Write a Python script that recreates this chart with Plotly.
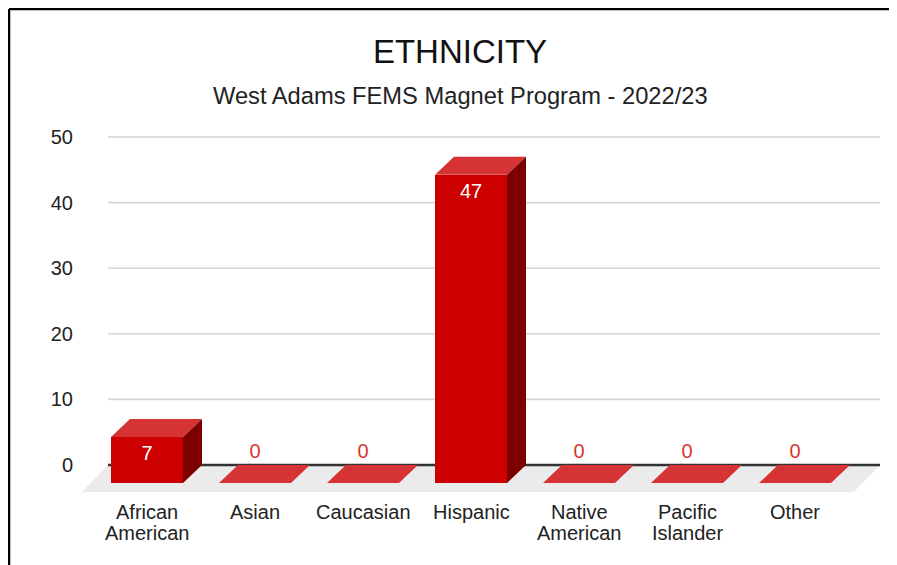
import plotly.graph_objects as go

# ---- data ----
categories = ["African American", "Asian", "Caucasian", "Hispanic",
              "Native American", "Pacific Islander", "Other"]
tick_labels = ["African<br>American", "Asian", "Caucasian", "Hispanic",
               "Native<br>American", "Pacific<br>Islander", "Other"]
values = [7, 0, 0, 47, 0, 0, 0]
y_ticks = [0, 10, 20, 30, 40, 50]
title_text = "ETHNICITY"
subtitle_text = "West Adams FEMS Magnet Program - 2022/23"

# ---- style / geometry (window px -> figure px -> data units) ----
OFF = 8                                      # page body margin
W, H = 897 - OFF, 565 - OFF
PL, PR, PT, PB = 82 - OFF, 880 - OFF, 124 - OFF, 498 - OFF
PX_PER_X = 108.0
PX_PER_Y = 6.56
X0_PX, Y0_PX = 147 - OFF, 465 - OFF
x_range = [(PL - X0_PX) / PX_PER_X, (PR - X0_PX) / PX_PER_X]
y_range = [-(PB - Y0_PX) / PX_PER_Y, (Y0_PX - PT) / PX_PER_Y]

bar_w = 72 / PX_PER_X
dxb, dyb = 19 / PX_PER_X, 18 / PX_PER_Y      # bar depth offset
dxf, dyf = 26 / PX_PER_X, 27 / PX_PER_Y      # floor depth offset
grid_x0 = (108 - OFF - X0_PX) / PX_PER_X
grid_x1 = x_range[1]

FRONT = "#cc0000"
TOP = "#d63434"
SIDE = "#7d0000"
FONT = "Arial, Liberation Sans, sans-serif"
TXT = "#222222"

idx = list(range(len(categories)))

fig = go.Figure()

fig.add_trace(go.Bar(
    x=idx, y=values, base=[-dyb] * len(values), width=bar_w,
    marker=dict(color=FRONT, line=dict(width=0)),
    hoverinfo="skip", showlegend=False,
))

lab_y = [v - dyb - 18 / PX_PER_Y if v > 0 else 12 / PX_PER_Y for v in values]
lab_c = ["white" if v > 0 else "#d93636" for v in values]
fig.add_trace(go.Scatter(
    x=idx, y=lab_y, mode="text", text=[str(v) for v in values],
    textposition="middle center",
    textfont=dict(color=lab_c, size=20, family=FONT),
    hoverinfo="skip", showlegend=False,
))

shapes = []
shapes.append(dict(
    type="path", xref="x", yref="y", layer="below", line=dict(width=0),
    fillcolor="#ebebeb",
    path=f"M {grid_x0},0 L {grid_x1},0 L {grid_x1 - dxf},{-dyf} L {grid_x0 - dxf},{-dyf} Z",
))
for t in y_ticks:
    shapes.append(dict(
        type="line", xref="x", yref="y", layer="below",
        x0=grid_x0, x1=grid_x1, y0=t, y1=t,
        line=dict(color="#333333" if t == 0 else "#d6d6d6",
                  width=2.5 if t == 0 else 1.6),
    ))
for i, v in zip(idx, values):
    fl, fr = i - bar_w / 2, i + bar_w / 2
    ft, fb = v - dyb, -dyb
    shapes.append(dict(
        type="path", xref="x", yref="y", layer="above", line=dict(width=0),
        fillcolor=TOP,
        path=f"M {fl},{ft} L {fr},{ft} L {fr + dxb},{v} L {fl + dxb},{v} Z",
    ))
    if v > 0:
        shapes.append(dict(
            type="path", xref="x", yref="y", layer="above", line=dict(width=0),
            fillcolor=SIDE,
            path=f"M {fr},{fb} L {fr},{ft} L {fr + dxb},{v} L {fr + dxb},0 Z",
        ))


def px_x(p):
    return (p - OFF - PL) / (PR - PL)


def px_y(p):
    return (PB - (p - OFF)) / (PB - PT)


shapes.append(dict(type="line", xref="paper", yref="paper",
                   x0=px_x(9), x1=px_x(905), y0=px_y(9), y1=px_y(9),
                   line=dict(color="black", width=2.5)))
shapes.append(dict(type="line", xref="paper", yref="paper",
                   x0=px_x(9), x1=px_x(9), y0=px_y(9), y1=px_y(575),
                   line=dict(color="black", width=2.5)))

annotations = [dict(text=subtitle_text, xref="paper", yref="paper",
                    x=px_x(460), y=px_y(96), xanchor="center", yanchor="middle",
                    showarrow=False,
                    font=dict(size=23.7, color=TXT, family=FONT))]
# category labels, one annotation per line for tight line spacing
for i, lab in zip(idx, tick_labels):
    for k, line in enumerate(lab.split("<br>")):
        annotations.append(dict(
            text=line, xref="x", yref="paper", x=i, y=px_y(512 + 21 * k),
            xanchor="center", yanchor="middle", showarrow=False,
            font=dict(size=20, color=TXT, family=FONT)))

fig.update_layout(
    width=W, height=H,
    margin=dict(l=PL, r=W - PR, t=PT, b=H - PB, autoexpand=False),
    paper_bgcolor="white", plot_bgcolor="rgba(0,0,0,0)",
    font=dict(family=FONT, color=TXT),
    title=dict(text=title_text, xref="container", yref="container",
               x=(460 - OFF) / W, y=1 - (51 - OFF) / H,
               xanchor="center", yanchor="middle",
               font=dict(size=33, color="#111111", family=FONT)),
    annotations=annotations,
    shapes=shapes,
    showlegend=False,
    bargap=0,
)
fig.update_xaxes(range=x_range, tickvals=idx, showticklabels=False,
                 showgrid=False, zeroline=False, showline=False, ticks="",
                 fixedrange=True)
fig.update_yaxes(range=y_range, tickvals=y_ticks, showgrid=False,
                 zeroline=False, showline=False, ticks="",
                 ticklabelstandoff=8,
                 tickfont=dict(size=20, color=TXT, family=FONT),
                 fixedrange=True)

fig.write_html("out.html")
